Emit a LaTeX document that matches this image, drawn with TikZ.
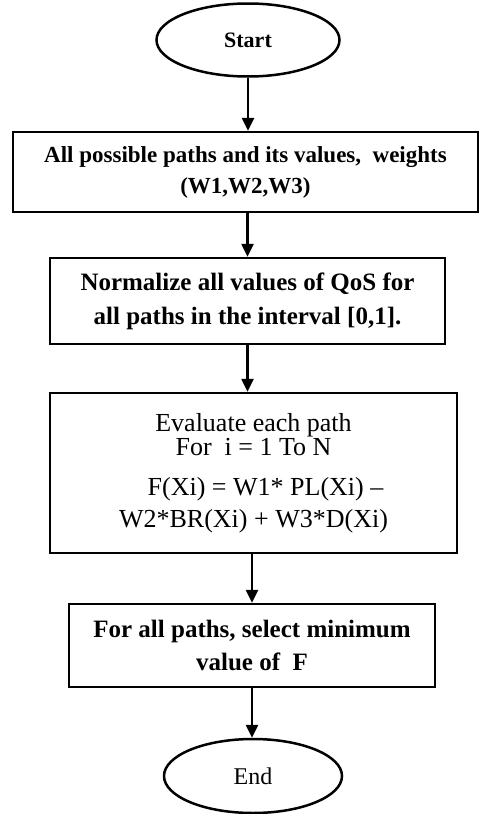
\documentclass[tikz,border=0pt]{standalone}
\usepackage{fontspec}
\setmainfont{Liberation Serif}
\usetikzlibrary{shapes.geometric,arrows.meta}
\begin{document}
\begin{tikzpicture}[x=1pt,y=-1pt,
  box/.style={draw, line width=2.5pt, inner sep=0pt, align=center,
    font=\bfseries\fontsize{25}{32}\selectfont},
  term/.style={draw, ellipse, line width=2.5pt, inner sep=0pt},
  flow/.style={line width=2.5pt, -{Triangle[length=13pt,width=12pt]}}]
\useasboundingbox (0,0) rectangle (479,814);

% terminals
\node[term, minimum width=183pt, minimum height=73pt,
  font=\bfseries\fontsize{22}{26}\selectfont] (start) at (248,40) {Start};
\node[term, minimum width=178pt, minimum height=74pt,
  font=\fontsize{24}{28}\selectfont] (end) at (253,776) {End};

% process steps
\node[box, minimum width=465pt, minimum height=80pt,
  font=\bfseries\fontsize{23}{31}\selectfont] (paths) at (245.5,172)
  {All possible paths and its values,\ \ weights\\(W1,W2,W3)};
\node[box, minimum width=395pt, minimum height=86pt,
  font=\bfseries\fontsize{25}{34}\selectfont] (norm) at (247.5,301)
  {Normalize all values of QoS for\\all paths in the interval [0,1].};
\node[box, minimum width=407pt, minimum height=160pt,
  font=\fontsize{26}{30}\selectfont] (eval) at (253.5,473)
  {Evaluate each path\\[-6pt]For\ \ i = 1 To N\\[10pt]\hspace*{24pt}F(Xi) = W1* PL(Xi) –\\[2pt]W2*BR(Xi) + W3*D(Xi)};
\node[box, minimum width=366pt, minimum height=83pt,
  font=\bfseries\fontsize{25}{33}\selectfont] (select) at (252,645.5)
  {For all paths, select minimum\\value of\ \ F};

% connectors
\draw[flow] (start.south) -- (start.south |- paths.north);
\draw[flow] (norm.north |- paths.south) -- (norm.north);
\draw[flow] (norm.south) -- (norm.south |- eval.north);
\draw[flow] (select.north |- eval.south) -- (select.north);
\draw[flow] (select.south) -- (select.south |- end.north);
\end{tikzpicture}
\end{document}
